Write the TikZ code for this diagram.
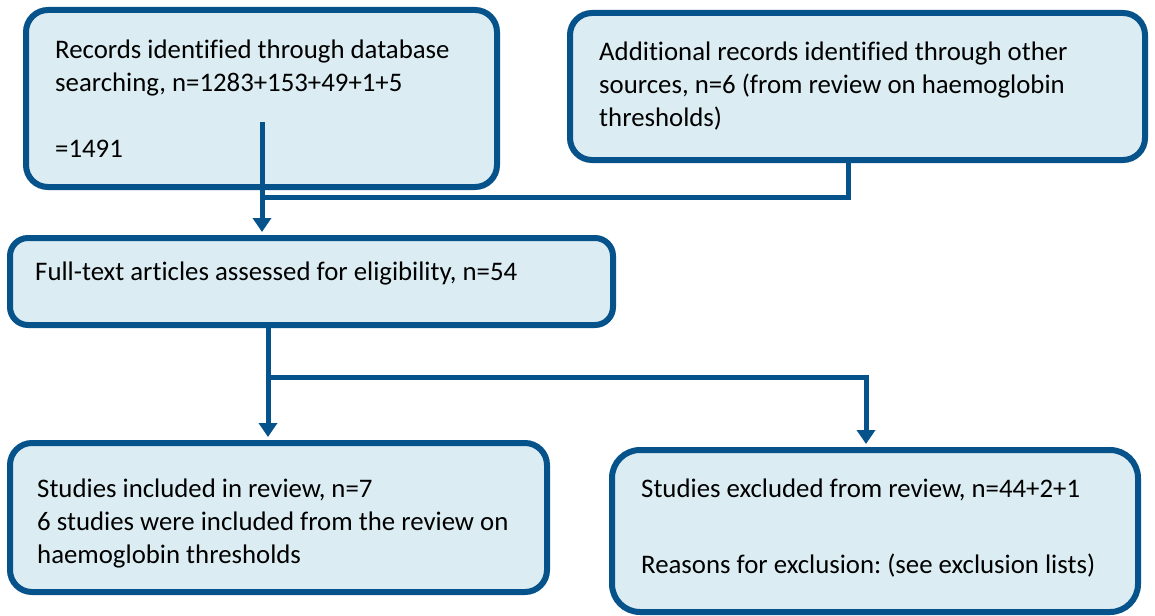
\documentclass[tikz,border=0pt]{standalone}
\usepackage{fontspec}
\setmainfont[Ligatures=NoCommon]{Carlito}
\usepackage{tikz}
\usetikzlibrary{calc,arrows.meta}
\definecolor{flowline}{RGB}{6,82,138}
\definecolor{flowfill}{RGB}{219,237,243}
\tikzstyle{flow box} = [rectangle,draw=flowline,fill=flowfill,line width=6pt,rounded corners=22pt,inner sep=0]
\tikzstyle{flow text} = [inner sep=0,align=left,font=\fontsize{26.8}{33}\selectfont\frenchspacing]
\tikzstyle{flow link} = [draw=flowline,line width=5pt]
\tikzstyle{flow arrow} = [flow link,-{Triangle[width=18pt,length=14pt]},shorten >=3pt]

\begin{document}
\begin{tikzpicture}[x=1pt,y=-1pt]
    \useasboundingbox (0,0) rectangle (1155,615);

    % Identification
    \node(recs)[flow box, minimum width=471, minimum height=177] at (261.5,98.5) {};
    \node(recs-txt)[flow text, anchor=west] at ($(recs.west)+(32,0)$)
        {Records identified through database\\searching, n=1283+153+49+1+5\\[33pt]=1491};
    \node(addl)[flow box, minimum width=575, minimum height=147] at (857.5,86.5) {};
    \node(addl-txt)[flow text, anchor=west] at ($(addl.west)+(32,0)$)
        {Additional records identified through other\\sources, n=6 (from review on haemoglobin\\thresholds)};

    % Eligibility
    \node(full)[flow box, minimum width=603, minimum height=87, rounded corners=18pt] at (311.5,281.5) {};
    \node(full-txt)[flow text, anchor=west] at ($(full.west)+(28,-8)$)
        {Full-text articles assessed for eligibility, n=54};

    % Included / excluded
    \node(incl)[flow box, minimum width=537, minimum height=149] at (278.5,517.5) {};
    \node(incl-txt)[flow text, anchor=west] at ($(incl.west)+(30,6)$)
        {Studies included in review, n=7\\6 studies were included from the review on\\haemoglobin thresholds};
    \node(excl)[flow box, minimum width=526, minimum height=162, rounded corners=28pt] at (875,531) {};
    \node(excl-txt)[flow text, anchor=west] at ($(excl.west)+(32,-3)$)
        {Studies excluded from review, n=44+2+1\\[43pt]Reasons for exclusion: (see exclusion lists)};

    % Merge of both sources
    \coordinate(recs-out) at (262,122);
    \coordinate(merge) at (262,197);
    \draw[flow arrow] (recs-out) -- (recs-out |- full.north);
    \draw[flow link] ($(addl.south)+(-9.5,0)$) |- (merge);

    % Split after full-text assessment
    \coordinate(split) at (268,377);
    \draw[flow arrow] (full.south -| split) -- (split |- incl.north);
    \draw[flow arrow] (split) -| ($(excl.north)+(-9,0)$);

\end{tikzpicture}
\end{document}
